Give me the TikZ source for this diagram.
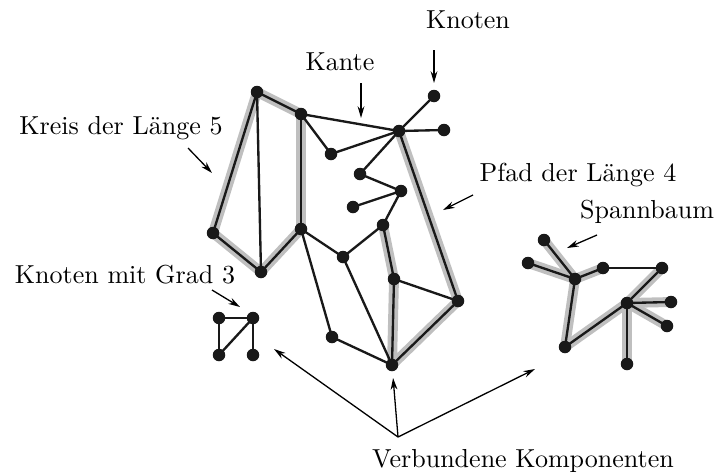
\documentclass[tikz,border=0pt]{standalone}
\usetikzlibrary{arrows.meta, backgrounds}

\tikzset{
  vtx/.style={circle, fill=black!90, inner sep=0pt, minimum size=4.8pt},
  edge/.style={line width=0.9pt, black!90},
  hilite/.style={line width=3.8pt, black!25, line cap=round, line join=round},
  pointer/.style={->, line width=0.5pt},
}

\begin{document}
\begin{tikzpicture}[x=0.0135cm, y=-0.0135cm, >={Stealth[length=4.5pt, width=2.6pt]}]
  \useasboundingbox (0,0) rectangle (717,474);

  % big component
  \foreach \n/\x/\y in {a/257/92, b/301/114, c/399/131, d/434/96, e/444/130,
      f/331/154, g/360/174, h/401/191, i/353/207, j/383/225, k/213/233,
      l/301/229, m/261/272, n/343/257, o/394/279, p/458/301, q/332/337, r/392/365}
    \node[vtx] (\n) at (\x,\y) {};

  % small component
  \foreach \n/\x/\y in {s1/219/318, s2/253/318, s3/219/355, s4/253/355}
    \node[vtx] (\n) at (\x,\y) {};

  % tree component
  \foreach \n/\x/\y in {t1/544/240, t2/528/263, t3/575/279, t4/603/268, t5/662/268,
      t6/627/303, t7/671/302, t8/667/326, t9/565/347, t10/627/364}
    \node[vtx] (\n) at (\x,\y) {};

  \begin{scope}[on background layer]
    % cycle, path and spanning tree
    \draw[hilite] (a.center) -- (b.center) -- (l.center) -- (m.center) -- (k.center) -- cycle;
    \draw[hilite] (c.center) -- (p.center) -- (r.center) -- (o.center) -- (j.center);
    \foreach \u/\v in {t1/t3, t2/t3, t3/t4, t3/t9, t9/t6, t6/t5, t6/t7, t6/t8, t6/t10}
      \draw[hilite] (\u.center) -- (\v.center);

    \foreach \u/\v in {a/b, a/k, a/m, k/m, m/l, l/b, b/c, b/f, f/c, c/d, c/e, c/g,
        g/h, h/i, h/j, c/p, p/r, r/o, o/j, o/p, l/n, n/j, n/r, l/q, q/r,
        s1/s2, s1/s3, s2/s3, s2/s4,
        t1/t3, t2/t3, t3/t4, t4/t5, t3/t9, t9/t6, t6/t5, t6/t7, t6/t8, t6/t10}
      \draw[edge] (\u.center) -- (\v.center);
  \end{scope}

  % labels
  \node (knoten) at (468,20) {Knoten};
  \node (kante) at (340,62) {Kante};
  \node (kreis) at (121,128) {Kreis der L\"ange 5};
  \node (pfad) at (578,175) {Pfad der L\"ange 4};
  \node (spann) at (647,212) {Spannbaum};
  \node (grad) at (125,275) {Knoten mit Grad 3};
  \node (komp) at (523,461) {Verbundene Komponenten};

  % pointers
  \coordinate (knotenT) at (434,50);
  \coordinate (kanteT) at (361,83);   \coordinate (kanteH) at (361,118);
  \coordinate (kreisT) at (188,148);  \coordinate (kreisH) at (212,173);
  \coordinate (pfadT) at (473,195);   \coordinate (pfadH) at (443,210);
  \coordinate (spannT) at (597,235);  \coordinate (spannH) at (567,248);
  \coordinate (gradT) at (212,290);   \coordinate (gradH) at (240,307);
  \coordinate (kompT) at (398,437);
  \coordinate (kompL) at (274,349);   \coordinate (kompR) at (535,369);

  \draw[pointer, shorten >=2.4pt] (knotenT) -- (d);
  \draw[pointer] (kanteT) -- (kanteH);
  \draw[pointer] (kreisT) -- (kreisH);
  \draw[pointer] (pfadT) -- (pfadH);
  \draw[pointer] (spannT) -- (spannH);
  \draw[pointer] (gradT) -- (gradH);
  \draw[pointer] (kompT) -- (kompL);
  \draw[pointer, shorten >=2.4pt] (kompT) -- (r);
  \draw[pointer] (kompT) -- (kompR);
\end{tikzpicture}
\end{document}
